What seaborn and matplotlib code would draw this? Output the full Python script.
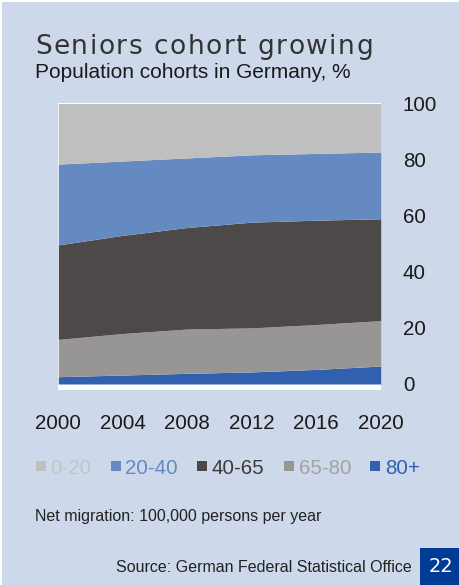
import numpy as np
import pandas as pd
import seaborn as sns
import matplotlib
matplotlib.use("Agg")
import matplotlib.pyplot as plt
from matplotlib.lines import Line2D
from matplotlib.patches import Rectangle

# Population shares by age cohort, Germany (%)
years = [2000, 2004, 2008, 2012, 2016, 2020]
age_0_20 = [21.6, 20.5, 19.4, 18.3, 17.8, 17.3]
age_20_40 = [28.8, 26.5, 24.8, 24.0, 23.8, 23.8]
age_40_65 = [33.7, 35.0, 36.2, 37.7, 37.2, 36.3]
age_65_80 = [13.3, 14.8, 15.8, 15.7, 16.0, 16.2]
age_80_plus = [2.6, 3.2, 3.8, 4.3, 5.2, 6.4]

cohort_labels = ["0-20", "20-40", "40-65", "65-80", "80+"]
y_ticks = [0, 20, 40, 60, 80, 100]
x_ticks = [2000, 2004, 2008, 2012, 2016, 2020]

title = "Seniors cohort growing"
subtitle = "Population cohorts in Germany, %"
note = "Net migration: 100,000 persons per year"
source = "Source: German Federal Statistical Office"
page_no = "22"

df = pd.DataFrame({
    "year": years,
    "0-20": age_0_20,
    "20-40": age_20_40,
    "40-65": age_40_65,
    "65-80": age_65_80,
    "80+": age_80_plus,
})

BG = "#CDD8EA"
fill_colors = dict(zip(cohort_labels, sns.color_palette(
    ["#BFBFBF", "#6589C1", "#4D4948", "#979695", "#3060AE"])))
text_colors = dict(zip(cohort_labels,
                       ["#C4C4C4", "#6589C1", "#3F3B3A", "#A3A3A3", "#3060AE"]))

sns.set_theme(style="white")
plt.rcParams["font.family"] = ["Liberation Sans", "DejaVu Sans"]

W, H = 459, 585
fig = plt.figure(figsize=(W / 100, H / 100), dpi=100, facecolor=BG)

# thin white edge along top and left of the page
fig.patches.append(Rectangle((0, 1 - 2.3 / H), 1, 2.3 / H, transform=fig.transFigure,
                             facecolor="white", edgecolor="none", zorder=0))
fig.patches.append(Rectangle((0, 0), 2.0 / W, 1, transform=fig.transFigure,
                             facecolor="white", edgecolor="none", zorder=0))

ax_l, ax_r, ax_t, ax_b = 58.3, 380.7, 103.0, 390.0
ax = fig.add_axes([ax_l / W, 1 - ax_b / H, (ax_r - ax_l) / W, (ax_b - ax_t) / H])
ax.set_facecolor("white")

stack_order = ["80+", "65-80", "40-65", "20-40", "0-20"]
ax.stackplot(df["year"], [df[c] for c in stack_order],
             colors=[fill_colors[c] for c in stack_order], linewidth=0)

ax.set_xlim(2000, 2020)
ax.set_ylim(-2.14, 100.18)
ax.set_xticks(x_ticks)
ax.set_yticks(y_ticks)
ax.yaxis.tick_right()
ax.tick_params(axis="y", length=0, pad=16, labelsize=14.8, labelcolor="#1A1A1A")
ax.tick_params(axis="x", length=0, pad=17, labelsize=14.8, labelcolor="#1A1A1A")
for lbl in ax.get_yticklabels():
    lbl.set_horizontalalignment("left")
sns.despine(ax=ax, left=True, bottom=True, right=True, top=True)
ax.grid(False)

# legend with coloured labels
handles = [Line2D([], [], marker="s", linestyle="none", markersize=7.5,
                  markerfacecolor=fill_colors[c], markeredgewidth=0)
           for c in cohort_labels]
leg = fig.legend(handles, cohort_labels, loc="center left",
                 bbox_to_anchor=(35 / W, 1 - 468 / H), ncol=5, frameon=False,
                 fontsize=14.8, handlelength=0.55, handletextpad=0.2,
                 columnspacing=0.9, borderaxespad=0, borderpad=0,
                 labelcolor=[text_colors[c] for c in cohort_labels])


def spaced_text(x_px, y_px, s, spacing_px, **kw):
    renderer = fig.canvas.get_renderer()
    probe = fig.text(0, 0, "xx", **kw)
    w2 = probe.get_window_extent(renderer).width
    probe.set_text("x x")
    space_w = probe.get_window_extent(renderer).width - w2
    probe.remove()
    x = x_px
    for ch in s:
        if ch == " ":
            w = space_w
        else:
            t = fig.text(x / W, 1 - y_px / H, ch, ha="left", va="baseline", **kw)
            w = t.get_window_extent(renderer).width
        x += w + spacing_px


spaced_text(35, 54, title, 1.5, fontsize=19, color="#333333", family="DejaVu Sans")
fig.text(35 / W, 1 - 78.5 / H, subtitle, ha="left", va="baseline",
         fontsize=15, color="#1A1A1A")
fig.text(35 / W, 1 - 516 / H, note, ha="left", va="center",
         fontsize=11.5, color="#222222")
fig.text(412 / W, 1 - 567 / H, source, ha="right", va="center",
         fontsize=11.5, color="#222222")

fig.patches.append(Rectangle((420 / W, 0), 39 / W, 37 / H, transform=fig.transFigure,
                             facecolor="#003C96", edgecolor="none", zorder=1))
fig.text(440.5 / W, 1 - 567 / H, page_no, ha="center", va="center",
         fontsize=14, color="white", family="DejaVu Sans", zorder=2)

fig.savefig("out.png", dpi=100, facecolor=BG)
